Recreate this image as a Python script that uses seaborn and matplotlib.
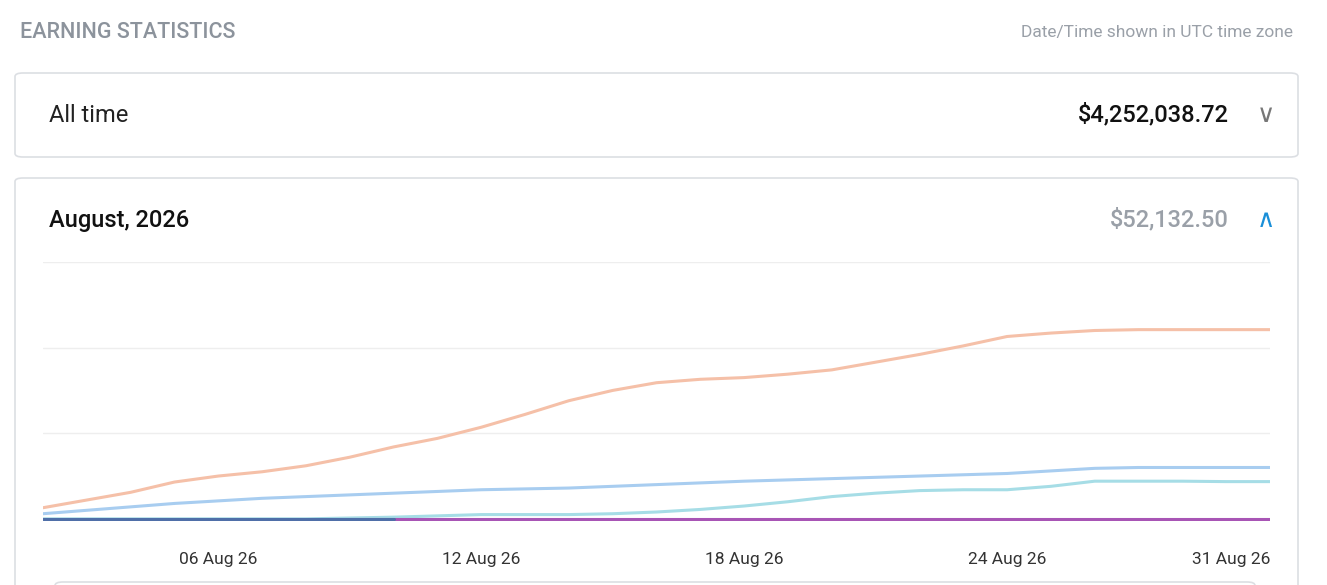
import matplotlib
matplotlib.use("Agg")
import matplotlib.pyplot as plt
import seaborn as sns
import pandas as pd
from matplotlib.patches import FancyBboxPatch

days = list(range(2, 31))
orange = [1.3,2.2,3.1,4.3,5.0,5.5,6.2,7.2,8.4,9.4,10.7,12.2,13.8,15.0,15.9,16.3,16.5,16.9,17.4,18.3,19.2,20.2,21.3,21.7,22.0,22.1,22.1,22.1,22.1]
blue = [0.6,1.0,1.4,1.8,2.1,2.4,2.6,2.8,3.0,3.2,3.4,3.5,3.6,3.8,4.0,4.2,4.4,4.55,4.7,4.85,5.0,5.15,5.3,5.6,5.9,6.0,6.0,6.0,6.0]
teal = [0,0,0,0,0,0,0,0.1,0.2,0.35,0.5,0.5,0.5,0.6,0.8,1.1,1.5,2.0,2.6,3.0,3.3,3.4,3.4,3.8,4.4,4.4,4.4,4.35,4.35]
navy = [0]*9
purple = [0]*22
tick_days = [6, 12, 18, 24, 30]
tick_labels = ["06 Aug 26", "12 Aug 26", "18 Aug 26", "24 Aug 26", "31 Aug 26"]

sns.set_theme(style="white")
plt.rcParams['font.family'] = ['Roboto', 'DejaVu Sans']
fig = plt.figure(figsize=(13.27, 5.85), dpi=100)
W, H = 1327, 585

def card(x0, y0, x1, y1):
    fig.patches.append(FancyBboxPatch((x0/W, 1-y1/H), (x1-x0)/W, (y1-y0)/H,
        boxstyle="round,pad=0,rounding_size=0.006", transform=fig.transFigure,
        facecolor="white", edgecolor="#dcdfe3", linewidth=1.2, zorder=-5))
card(15, 73, 1298, 157)
card(15, 178, 1298, 620)
card(55, 582, 1255, 640)

fig.text(20/W, 1-33/H, "EARNING STATISTICS", fontsize=15.5, color="#8c939c", va="center", fontweight="medium")
fig.text(1293/W, 1-33/H, "Date/Time shown in UTC time zone", fontsize=12.5, color="#9aa0a8", va="center", ha="right")
fig.text(49/W, 1-115/H, "All time", fontsize=17, color="#222", va="center")
fig.text(1229/W, 1-115/H, "$4,252,038.72", fontsize=17, color="#111", va="center", ha="right", fontweight="medium")
fig.text(1266/W, 1-115/H, "\u2228", fontsize=18, color="#777", va="center", ha="center")
fig.text(49/W, 1-220/H, "August, 2026", fontsize=17, color="#111", va="center", fontweight="medium")
fig.text(1229/W, 1-220/H, "$52,132.50", fontsize=17, color="#9aa0a8", va="center", ha="right", fontweight="medium")
fig.text(1266/W, 1-220/H, "\u2227", fontsize=18, color="#1a8fd8", va="center", ha="center")

ax = fig.add_axes([43/W, 1-521/H, (1270-43)/W, (521-262)/H])
ax.set_zorder(5)
ax.patch.set_alpha(0)
df = pd.concat([
    pd.DataFrame({"day": days, "v": orange, "s": "a"}),
    pd.DataFrame({"day": days, "v": blue, "s": "b"}),
    pd.DataFrame({"day": days, "v": teal, "s": "c"}),
    pd.DataFrame({"day": days[-len(purple):], "v": purple, "s": "d"}),
    pd.DataFrame({"day": days[:len(navy)], "v": navy, "s": "e"}),
])
pal = {"a": "#f5c0a8", "b": "#a8cdf0", "c": "#a6dde6", "d": "#a855b5", "e": "#4f6fa8"}
sns.lineplot(data=df, x="day", y="v", hue="s", palette=pal, ax=ax, legend=False, linewidth=2.2)
ax.set_xlim(2, 30)
ax.set_ylim(-0.25, 30)
ax.set_yticks([10, 20, 30])
ax.set_yticklabels([])
ax.grid(axis="y", color="#eeeeee", linewidth=1)
ax.set_xticks(tick_days)
ax.set_xticklabels(tick_labels, fontsize=12.5, color="#333")
ax.get_xticklabels()[-1].set_ha("right")
ax.tick_params(axis="x", length=0, pad=22)
ax.tick_params(axis="y", length=0)
ax.set_xlabel(""); ax.set_ylabel("")
for s in ["top", "right", "left", "bottom"]:
    ax.spines[s].set_visible(False)
fig.savefig("out.png", dpi=100)
